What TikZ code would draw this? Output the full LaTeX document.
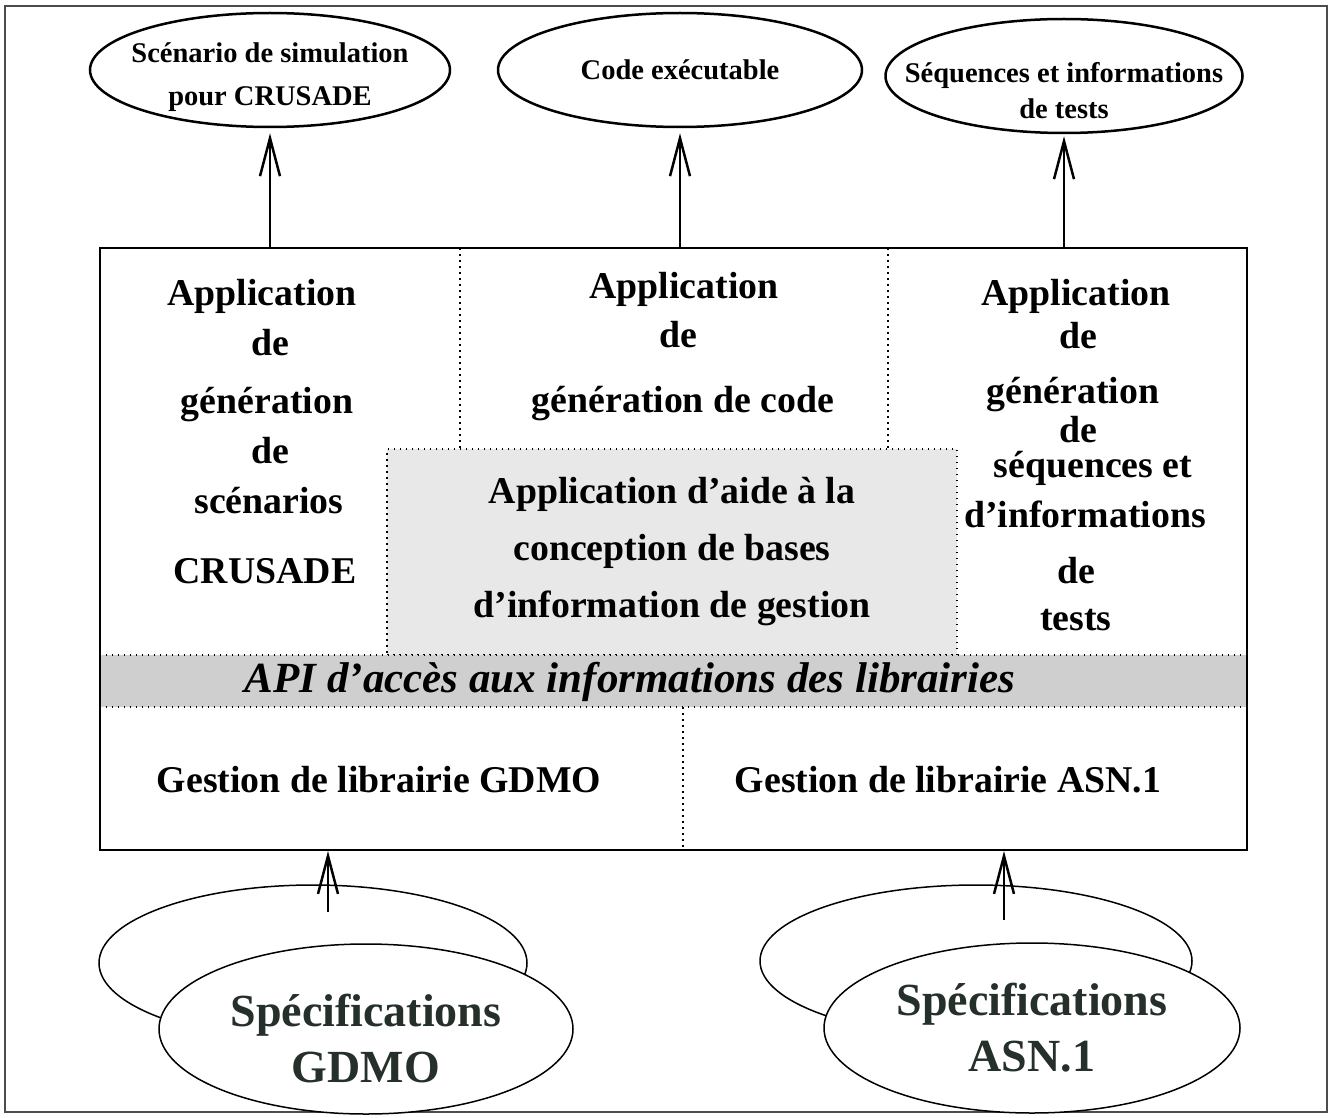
\documentclass[tikz,border=0pt]{standalone}
\usepackage{fontspec}
\setmainfont{Liberation Serif}
\usetikzlibrary{arrows.meta,shapes.geometric}
\definecolor{specink}{RGB}{38,48,42}
\tikzset{%
  coltext/.style={font=\fontsize{37.8}{45}\selectfont\bfseries,inner sep=0,anchor=base},
  outbox/.style={draw,shape=ellipse,line width=2.5,inner sep=0,align=center,minimum height=114pt},
  specback/.style={draw,shape=ellipse,line width=1.5,fill=white},
  specbox/.style={draw,shape=ellipse,line width=1.5,fill=white,inner sep=0,align=center,
    text=specink,font=\fontsize{46}{56}\selectfont\bfseries},
  dotline/.style={line width=1.5,dash pattern=on 1.5pt off 4.5pt},
  feed/.style={line width=2.5,-{Straight Barb[length=38pt,width=20pt]}}
}

\begin{document}
\begin{tikzpicture}[x=1pt,y=-1pt]
  \useasboundingbox (0,0) rectangle (1332,1118);
  \draw[line width=2,black!70] (5,6) rectangle (1327,1112);
  % shaded layers
  \node[draw,dotline,fill=black!9,minimum width=570pt,minimum height=206pt,inner sep=0,
    align=center,font=\fontsize{37.8}{57}\selectfont\bfseries] (aide) at (672,552)
    {Application d’aide à la\\conception de bases\\d’information de gestion};
  \node[fill=black!19,minimum width=1147pt,minimum height=52pt,inner sep=0] (api) at (673.5,681) {};
  \draw[dotline] (api.north west) -- (api.north east);
  \draw[dotline] (api.south west) -- (api.south east);
  \node[coltext,font=\fontsize{43}{50}\selectfont\bfseries\itshape] (apitext) at (630,692)
    {API d’accès aux informations des librairies};
  \draw[dotline] (460,248) -- (460,449);
  \draw[dotline] (888,248) -- (888,449);
  \draw[dotline] (683,707) -- (683,850);
  % column texts
  \foreach \t/\x/\y [count=\i] in {Application/262/305,de/270/355,génération/267/413,
      de/270/463,scénarios/269/513,CRUSADE/265/583}
    \node[coltext] (scen\i) at (\x,\y) {\t};
  \foreach \t/\x/\y [count=\i] in {Application/684/298,de/678/347,génération de code/683/412}
    \node[coltext] (code\i) at (\x,\y) {\t};
  \foreach \t/\x/\y [count=\i] in {Application/1076/305,de/1078/348,génération/1073/403,
      de/1078/442,séquences et/1093/477,d’informations/1085/527,de/1076/583,tests/1076/630}
    \node[coltext] (seq\i) at (\x,\y) {\t};
  \node[coltext] (gdmolib) at (379,792) {Gestion de librairie GDMO};
  \node[coltext] (asnlib) at (948,792) {Gestion de librairie ASN.1};
  \node[draw,line width=2,minimum width=1147pt,minimum height=602pt,inner sep=0] (stack) at (673.5,549) {};
  % outputs
  \node[outbox,minimum width=360pt,inner xsep=-35pt,inner ysep=-4pt,text height=78pt,
    font=\fontsize{28.5}{43}\selectfont\bfseries]
    (scenout) at (270,70) {Scénario de simulation\\pour CRUSADE};
  \node[outbox,minimum width=364pt,font=\fontsize{28.5}{36}\selectfont\bfseries]
    (codeout) at (680,70) {Code exécutable};
  \node[outbox,minimum width=357pt,inner xsep=-45pt,inner ysep=-8pt,text height=86pt,
    font=\fontsize{28.5}{36}\selectfont\bfseries]
    (seqout) at (1064,76) {Séquences et informations\\de tests};
  % specifications
  \node[specback,minimum width=428pt,minimum height=156pt] (gdmoback) at (313,963) {};
  \node[specbox,minimum width=414pt,minimum height=170pt,text height=108pt] (gdmospec) at (366,1029) {Spécifications\\GDMO};
  \node[specback,minimum width=432pt,minimum height=152pt] (asnback) at (976,961) {};
  \node[specbox,minimum width=416pt,minimum height=170pt] (asnspec) at (1032,1028) {Spécifications\\ASN.1};
  \coordinate (gdmotail) at (328,912);
  \coordinate (asntail) at (1004,920);
  % arrows
  \draw[feed,shorten >=5pt] (scenout |- stack.north) -- (scenout);
  \draw[feed,shorten >=5pt] (codeout |- stack.north) -- (codeout);
  \draw[feed,shorten >=2pt] (seqout |- stack.north) -- (seqout);
  \draw[feed] (gdmotail) -- (gdmotail |- stack.south);
  \draw[feed] (asntail) -- (asntail |- stack.south);
\end{tikzpicture}
\end{document}
